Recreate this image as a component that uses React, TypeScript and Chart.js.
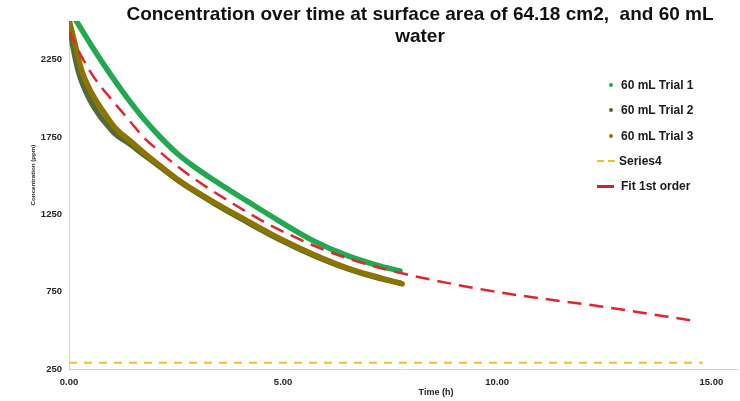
import React, { useEffect, useRef } from 'react';
import { Chart, registerables } from 'chart.js';

Chart.register(...registerables);

// ---- Data ----
const chartTitleLines = ['Concentration over time at surface area of 64.18 cm2,  and 60 mL', 'water'];
const xAxisTitle = 'Time (h)';
const yAxisTitle = 'Concentration (ppm)';

const seriesNames = ['60 mL Trial 1', '60 mL Trial 2', '60 mL Trial 3', 'Series4', 'Fit 1st order'];

const xTickValues = [0, 5, 10, 15];
const yTickValues = [250, 750, 1250, 1750, 2250];

const trial1Time = [0.14, 0.56, 0.96, 1.36, 1.73, 2.13, 2.52, 2.9, 3.36, 4.16, 4.93, 5.7, 6.5, 7.27, 7.73];
const trial1Conc = [2514, 2326, 2158, 2003, 1873, 1750, 1645, 1562, 1475, 1335, 1203, 1080, 983, 915, 884];

const trial2Time = [0, 0.09, 0.23, 0.44, 0.72, 0.91, 1.08, 1.38, 1.78, 2.17, 2.59, 3.36, 4.16, 4.93, 5.7, 6.5, 7.27, 7.73];
const trial2Conc = [2500, 2339, 2164, 2016, 1886, 1822, 1770, 1712, 1628, 1548, 1460, 1326, 1200, 1085, 985, 898, 834, 806];

const trial3Time = [0.02, 0.14, 0.3, 0.54, 0.84, 1.1, 1.43, 1.78, 2.17, 2.59, 3.36, 4.16, 4.93, 5.7, 6.5, 7.27, 7.78];
const trial3Conc = [2488, 2352, 2177, 2029, 1899, 1802, 1725, 1641, 1555, 1465, 1333, 1208, 1092, 992, 903, 839, 800];

const series4Time = [0, 14.8];
const series4Conc = [290, 290];

const fitTime = [0, 0.26, 0.56, 0.96, 1.36, 1.73, 2.13, 2.52, 2.9, 3.29, 3.69, 4.53, 5.7, 6.5, 7.27, 8.04, 10.0, 12.5, 14.63];
const fitConc = [2436, 2287, 2145, 2003, 1873, 1752, 1652, 1563, 1485, 1412, 1343, 1205, 1050, 966, 903, 852, 748, 651, 560];

// ---- Styles ----
const FONT = '"Liberation Sans", Arial, sans-serif';
const colors = ['#22a851', '#526b36', '#8c7400', '#f0c030', '#e0262c'];

const zip = (xs: number[], ys: number[]) => xs.map((x, i) => ({ x, y: ys[i] }));

export default function App() {
  const canvasRef = useRef<HTMLCanvasElement | null>(null);

  useEffect(() => {
    const canvas = canvasRef.current;
    if (!canvas) return;
    const thick = (i: number, time: number[], conc: number[], order: number) => ({
      label: seriesNames[i],
      data: zip(time, conc),
      borderColor: colors[i],
      borderWidth: 5.5,
      borderCapStyle: 'round',
      borderJoinStyle: 'round',
      pointRadius: 0,
      tension: 0.4,
      cubicInterpolationMode: 'monotone',
      order,
    });
    const chart = new Chart(canvas, {
      type: 'line',
      data: {
        datasets: [
          thick(0, trial1Time, trial1Conc, 4),
          thick(1, trial2Time, trial2Conc, 3),
          thick(2, trial3Time, trial3Conc, 2),
          {
            label: seriesNames[3],
            data: zip(series4Time, series4Conc),
            borderColor: colors[3],
            borderWidth: 2,
            borderDash: [8, 7],
            pointRadius: 0,
            order: 1,
          },
          {
            label: seriesNames[4],
            data: zip(fitTime, fitConc),
            borderColor: colors[4],
            borderWidth: 2.5,
            borderDash: [14, 8],
            pointRadius: 0,
            tension: 0.4,
            cubicInterpolationMode: 'monotone',
            order: 0,
          },
        ],
      },
      options: {
        animation: false,
        responsive: false,
        devicePixelRatio: 1,
        layout: { padding: { top: 21, right: 3, left: 0, bottom: 0 } },
        plugins: {
          legend: { display: false },
          title: { display: false },
          tooltip: { enabled: false },
        },
        scales: {
          x: {
            type: 'linear',
            min: 0,
            max: 15.6,
            grid: { display: false, drawTicks: false },
            border: { display: true, color: '#d0d0d0', width: 1 },
            afterBuildTicks: (scale: any) => {
              scale.ticks = xTickValues.map((v) => ({ value: v }));
            },
            afterFit: (scale: any) => {
              scale.height = 32;
            },
            ticks: {
              autoSkip: false,
              maxRotation: 0,
              padding: 8,
              color: '#262626',
              font: { family: FONT, size: 9.5, weight: 'bold' },
              callback: (v: any) => Number(v).toFixed(2),
            },
          },
          y: {
            type: 'linear',
            min: 250,
            max: 2500,
            grid: { display: false, drawTicks: false },
            border: { display: true, color: '#d0d0d0', width: 1 },
            afterBuildTicks: (scale: any) => {
              scale.ticks = yTickValues.map((v) => ({ value: v }));
            },
            afterFit: (scale: any) => {
              scale.width = 69;
            },
            ticks: {
              autoSkip: false,
              padding: 7,
              color: '#262626',
              font: { family: FONT, size: 9.5, weight: 'bold' },
              callback: (v: any) => String(v),
            },
          },
        },
      } as any,
    });
    return () => chart.destroy();
  }, []);

  const legendTop = [85, 110, 136, 161, 186];

  return (
    <div
      style={{
        position: 'fixed',
        left: 0,
        top: 0,
        width: 740,
        height: 401,
        background: '#ffffff',
        overflow: 'hidden',
        fontFamily: FONT,
      }}
    >
      <canvas ref={canvasRef} width={740} height={401} style={{ display: 'block', width: 740, height: 401 }} />

      {/* Title */}
      {chartTitleLines.map((line, i) => (
        <div
          key={i}
          style={{
            position: 'absolute',
            left: 420 - 330,
            width: 660,
            top: 3 + i * 22,
            height: 22,
            lineHeight: '22px',
            textAlign: 'center',
            whiteSpace: 'pre',
            fontSize: 19,
            fontWeight: 'bold',
            color: '#111111',
          }}
        >
          {line}
        </div>
      ))}

      {/* X axis title */}
      <div
        style={{
          position: 'absolute',
          left: 436 - 40,
          width: 80,
          top: 386,
          lineHeight: '12px',
          textAlign: 'center',
          fontSize: 9,
          fontWeight: 'bold',
          color: '#262626',
        }}
      >
        {xAxisTitle}
      </div>

      {/* Y axis title */}
      <div
        style={{
          position: 'absolute',
          left: 33 - 50,
          top: 175 - 6,
          width: 100,
          height: 12,
          lineHeight: '12px',
          textAlign: 'center',
          fontSize: 6.2,
          fontWeight: 'bold',
          color: '#262626',
          transform: 'rotate(-90deg)',
          whiteSpace: 'nowrap',
        }}
      >
        {yAxisTitle}
      </div>

      {/* Legend */}
      {seriesNames.map((name, i) => (
        <div key={name} style={{ position: 'absolute', left: 596, top: legendTop[i] - 8, height: 16, width: 140 }}>
          {i < 3 && (
            <div
              style={{
                position: 'absolute',
                left: 13,
                top: 6,
                width: 4,
                height: 4,
                borderRadius: 2,
                background: colors[i],
              }}
            />
          )}
          {i === 3 && (
            <>
              <div style={{ position: 'absolute', left: 1, top: 7, width: 7, height: 2, background: colors[3] }} />
              <div style={{ position: 'absolute', left: 12, top: 7, width: 7, height: 2, background: colors[3] }} />
            </>
          )}
          {i === 4 && (
            <div style={{ position: 'absolute', left: 1, top: 7, width: 17, height: 2.5, background: '#c8262c' }} />
          )}
          <div
            style={{
              position: 'absolute',
              left: i === 3 ? 23 : 25,
              top: 0,
              lineHeight: '16px',
              fontSize: 12,
              fontWeight: 'bold',
              color: '#1a1a1a',
              whiteSpace: 'nowrap',
            }}
          >
            {name}
          </div>
        </div>
      ))}
    </div>
  );
}
